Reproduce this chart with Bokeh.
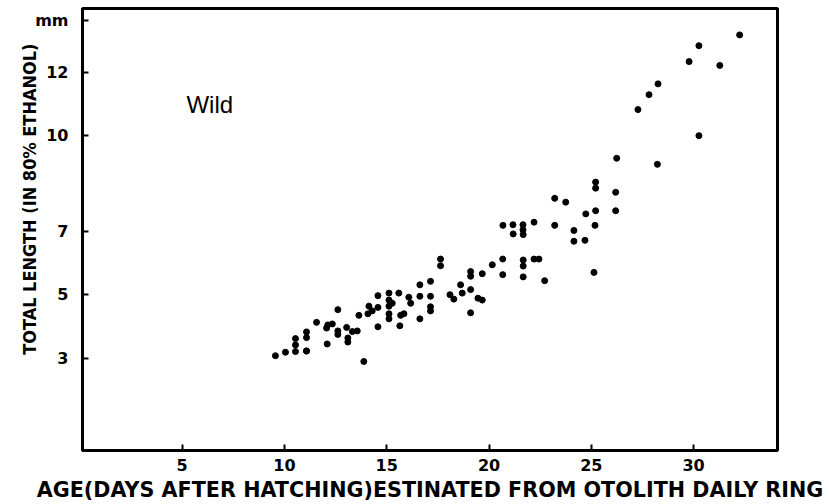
import math

from bokeh.embed import file_html
from bokeh.models import ColumnDataSource, FixedTicker, Label, Range1d, Title
from bokeh.plotting import figure
from bokeh.resources import INLINE

# Age (days after hatching, from otolith daily rings) and total length (mm)
age_days = [
    9.56, 10.05, 10.54, 10.54, 10.54, 11.08, 11.08, 11.08, 11.08, 11.57,
    12.06, 12.12, 12.34, 12.09, 12.61, 12.61, 12.61, 13.04, 13.10, 13.10,
    13.32, 13.56, 13.64, 13.88, 14.13, 14.08, 14.29, 14.57, 14.57, 14.57,
    15.11, 15.11, 15.11, 15.11, 15.11, 15.27, 15.59, 15.68, 15.64, 15.84,
    16.08, 16.17, 16.62, 16.62, 16.62, 17.14, 17.14, 17.14, 17.14, 17.63,
    17.63, 18.09, 18.28, 18.61, 18.69, 19.10, 19.10, 19.10, 19.10, 19.46,
    19.67, 19.67, 20.16, 20.67, 20.67, 21.18, 21.67, 21.67, 21.67, 21.67,
    22.20, 22.44, 22.72, 20.68, 21.17, 21.66, 21.66, 22.20, 23.21, 24.15,
    24.15, 24.69, 25.18, 25.13, 23.21, 23.75, 24.73, 25.21, 26.19, 25.21,
    25.21, 26.19, 26.24, 28.23, 27.28, 27.82, 28.26, 29.78, 30.26, 32.25,
    31.28, 30.26,
]
length_mm = [
    3.08, 3.19, 3.21, 3.42, 3.62, 3.23, 3.83, 3.65, 3.23, 4.13,
    3.95, 4.05, 4.08, 3.45, 4.53, 3.86, 3.75, 3.97, 3.64, 3.51,
    3.84, 3.86, 4.35, 2.90, 4.64, 4.40, 4.49, 4.97, 3.99, 4.60,
    5.05, 4.83, 4.64, 4.40, 4.24, 4.73, 5.05, 4.35, 4.02, 4.40,
    4.92, 4.73, 5.31, 4.95, 4.24, 5.42, 4.95, 4.62, 4.49, 6.12,
    5.91, 5.00, 4.86, 5.31, 5.05, 5.73, 5.58, 5.16, 4.43, 4.89,
    4.83, 5.66, 5.94, 6.12, 5.63, 6.91, 6.89, 6.09, 5.90, 5.56,
    6.12, 6.12, 5.44, 7.18, 7.20, 7.20, 7.04, 7.28, 7.18, 7.02,
    6.68, 6.71, 7.18, 5.70, 8.03, 7.91, 7.54, 7.64, 7.64, 8.54,
    8.35, 8.22, 9.29, 9.10, 10.82, 11.29, 11.63, 12.33, 12.83, 13.17,
    12.21, 10.00,
]

x_ticks = [5, 10, 15, 20, 25, 30]
y_ticks = [3, 5, 7, 10, 12]

x_title = "AGE(DAYS AFTER HATCHING)ESTINATED FROM OTOLITH DAILY RING"
y_title = "TOTAL LENGTH (IN 80% ETHANOL)"
unit_text = "mm"
unit_pos = 13.62
group_text = "Wild"

source = ColumnDataSource(data=dict(age=age_days, length=length_mm))

X0, X1 = 0.13, 34.1
Y0, Y1 = 0.1, 14.0

p = figure(
    width=829,
    height=504,
    output_backend="svg",
    toolbar_location=None,
    x_range=Range1d(X0, X1),
    y_range=Range1d(Y0, Y1),
    min_border_left=82,
    min_border_right=52,
    min_border_top=8,
    min_border_bottom=54,
    background_fill_color="white",
    border_fill_color="white",
)

p.grid.visible = False
p.outline_line_color = "black"
p.outline_line_width = 3

tick_font = "DejaVu Sans"
for ax in (p.xaxis[0], p.yaxis[0]):
    ax.axis_line_color = "black"
    ax.axis_line_width = 3
    ax.major_tick_in = 6
    ax.major_tick_out = 0
    ax.major_tick_line_width = 2
    ax.major_tick_line_color = "black"
    ax.minor_tick_in = 0
    ax.minor_tick_out = 0
    ax.major_label_text_font = tick_font
    ax.major_label_text_font_style = "bold"
    ax.major_label_text_font_size = "16px"
    ax.major_label_text_color = "black"

p.xaxis[0].ticker = FixedTicker(ticks=x_ticks)
# the unit mark sits in the tick-label column at the top of the axis
p.yaxis[0].ticker = FixedTicker(ticks=y_ticks + [unit_pos])
p.yaxis[0].major_label_overrides = {unit_pos: unit_text}
p.xaxis[0].major_label_standoff = 8
p.yaxis[0].major_label_standoff = 14

p.xaxis[0].axis_label = x_title
p.xaxis[0].axis_label_text_font = "DejaVu Sans"
p.xaxis[0].axis_label_text_font_style = "bold"
p.xaxis[0].axis_label_text_font_size = "20.7px"
p.xaxis[0].axis_label_text_color = "black"
p.xaxis[0].axis_label_standoff = 4

p.scatter("age", "length", source=source, size=6, marker="circle",
          fill_color="black", line_color="black")

# Rotated y title, ending near the top of the axis
p.add_layout(Title(
    text=y_title, align="right", offset=35, standoff=-14,
    text_font="DejaVu Sans Condensed, Liberation Sans", text_font_style="bold",
    text_font_size="18px", text_color="black",
), "left")

p.add_layout(Label(
    x=5.21, y=10.98, text=group_text,
    text_align="left", text_baseline="middle",
    text_font="Liberation Sans", text_font_size="24px", text_color="black",
))

open("out.html", "w").write(file_html(p, INLINE))
